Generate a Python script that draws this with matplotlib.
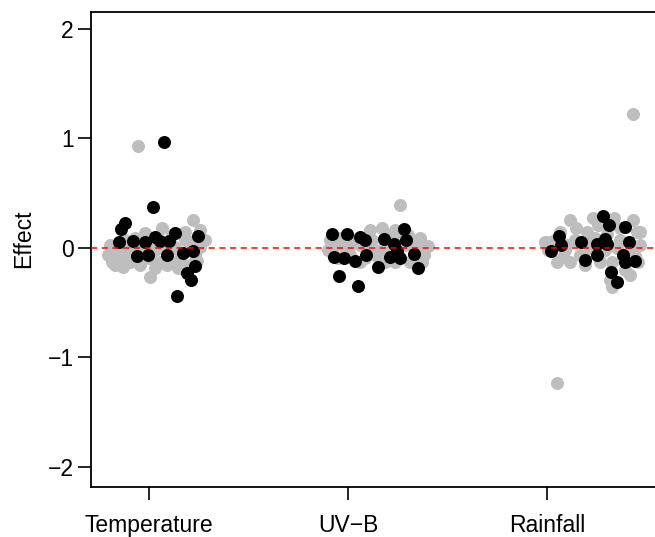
import matplotlib
matplotlib.use("Agg")
import matplotlib.pyplot as plt

plt.rcParams["font.family"] = ["Liberation Sans", "DejaVu Sans"]

categories = ["Temperature", "UV\u2212B", "Rainfall"]

# jitter offsets (category units) and effect values
temp_grey_dx = [-0.055, 0.22, 0.255, 0.065, -0.185, 0.005, -0.17, -0.195, -0.145, -0.095,
                -0.045, -0.02, 0.03, 0.055, 0.105, 0.13, 0.18, 0.255, 0.28, 0.205,
                0.155, -0.12, -0.07, 0.005, 0.08, -0.155, -0.045, 0.23, 0.115, 0.18,
                -0.205, -0.105, 0.03, 0.145, -0.17, -0.12, -0.08, 0.0, 0.09, 0.21,
                0.24, -0.03, 0.12, -0.13]
temp_grey_y = [0.93, 0.255, 0.165, 0.18, -0.13, -0.265, -0.155, 0.03, -0.02, -0.13,
               -0.02, 0.135, -0.02, -0.13, -0.125, 0.0, 0.07, 0.01, 0.075, -0.155,
               -0.09, 0.075, 0.09, 0.07, 0.03, -0.09, -0.155, -0.065, 0.12, 0.145,
               -0.065, 0.0, -0.18, -0.18, -0.05, -0.04, -0.1, -0.09, -0.16, 0.05,
               -0.12, 0.1, 0.02, -0.17]
temp_black_dx = [0.077, 0.02, -0.12, -0.14, -0.15, -0.08, -0.02, 0.03, 0.055, 0.10, 0.13,
                 0.245, -0.06, -0.007, 0.09, 0.17, 0.22, 0.23, 0.19, 0.21, 0.14]
temp_black_y = [0.97, 0.37, 0.23, 0.17, 0.055, 0.06, 0.055, 0.10, 0.06, 0.06, 0.14,
                0.11, -0.07, -0.065, -0.065, -0.05, -0.03, -0.165, -0.23, -0.29, -0.435]

uvb_grey_dx = [0.26, 0.17, 0.235, 0.335, 0.38, -0.065, -0.1, -0.015, 0.06, 0.12,
               0.16, 0.21, 0.285, 0.35, 0.31, 0.235, 0.135, 0.01, 0.085, -0.09,
               -0.04, 0.035, 0.195, 0.26, 0.36, 0.11, 0.185, -0.05, 0.37, 0.06,
               0.3, 0.02, 0.1, 0.22, 0.4, -0.08]
uvb_grey_y = [0.39, 0.18, 0.165, 0.055, -0.065, 0.03, -0.02, 0.0, 0.03, 0.075,
              -0.02, 0.12, 0.03, -0.02, -0.13, -0.13, -0.065, -0.065, -0.09, 0.075,
              0.09, 0.075, 0.035, 0.09, 0.09, 0.165, -0.13, -0.09, -0.13, -0.13,
              0.12, 0.04, -0.04, -0.05, 0.02, -0.05]
uvb_black_dx = [-0.08, -0.007, 0.06, 0.085, 0.28, 0.18, 0.23, 0.29, -0.07, -0.02,
                0.035, 0.09, 0.21, 0.26, 0.33, 0.15, 0.35, -0.045, 0.05, 0.245]
uvb_black_y = [0.125, 0.13, 0.10, 0.07, 0.17, 0.08, 0.04, 0.07, -0.08, -0.09,
               -0.115, -0.065, -0.085, -0.095, -0.055, -0.17, -0.185, -0.26, -0.35, -0.03]

rain_grey_dx = [0.43, 0.05, 0.115, 0.23, 0.335, 0.43, 0.45, 0.325, 0.415, 0.015,
                0.05, 0.2, 0.255, 0.065, 0.14, 0.09, 0.165, 0.215, 0.29, 0.365,
                0.415, 0.465, 0.455, 0.39, 0.265, 0.115, 0.005, 0.19, 0.325, 0.365,
                0.145, 0.04, 0.24, 0.465, 0.315, -0.01, 0.08, 0.2, 0.3, 0.44,
                0.1, 0.35]
rain_grey_y = [1.22, -1.235, 0.255, 0.275, 0.27, 0.255, 0.145, -0.355, -0.245, 0.055,
               -0.13, 0.145, 0.21, 0.145, 0.075, -0.02, -0.065, 0.0, -0.02, 0.075,
               -0.02, 0.03, -0.13, -0.2, -0.13, -0.13, -0.02, -0.155, -0.13, 0.18,
               0.18, 0.075, 0.09, 0.145, -0.29, 0.055, -0.08, 0.06, 0.13, -0.07,
               0.03, 0.0]
rain_black_dx = [0.28, 0.31, 0.39, 0.06, 0.07, 0.02, 0.17, 0.25, 0.29, 0.30,
                 0.41, 0.19, 0.25, 0.38, 0.44, 0.39, 0.32, 0.35]
rain_black_y = [0.29, 0.21, 0.19, 0.11, 0.03, -0.03, 0.05, 0.04, 0.08, 0.04,
                0.05, -0.11, -0.065, -0.065, -0.12, -0.125, -0.22, -0.31]

groups = [
    (temp_grey_dx, temp_grey_y, temp_black_dx, temp_black_y),
    (uvb_grey_dx, uvb_grey_y, uvb_black_dx, uvb_black_y),
    (rain_grey_dx, rain_grey_y, rain_black_dx, rain_black_y),
]

fig = plt.figure(figsize=(6.55, 5.37), dpi=100)
ax = fig.add_axes([91 / 655, 50 / 537, 609 / 655, 475 / 537])

for i, (gdx, gy, bdx, by) in enumerate(groups, start=1):
    ax.scatter([i + d for d in gdx], gy, s=88, color="#bebebe", linewidths=0, zorder=2)
for i, (gdx, gy, bdx, by) in enumerate(groups, start=1):
    ax.scatter([i + d for d in bdx], by, s=88, color="black", linewidths=0, zorder=3)

ax.axhline(0, color="red", linewidth=1.1, dashes=(4, 3), zorder=4)

ax.set_xlim(0.7085, 3.769)
ax.set_ylim(-2.183, 2.155)
ax.set_xticks([1, 2, 3])
ax.set_xticklabels(categories)
ax.set_yticks([-2, -1, 0, 1, 2])
ax.set_yticklabels(["\u22122", "\u22121", "0", "1", "2"])
ax.tick_params(axis="both", labelsize=16.5, length=9.5, width=1.2, direction="out")
ax.tick_params(axis="x", pad=10)
ax.tick_params(axis="y", pad=3)
for sp in ax.spines.values():
    sp.set_linewidth(1.3)

ax.set_ylabel("Effect", fontsize=16.5)
ax.yaxis.set_label_coords(-0.092, 0.522)

fig.savefig("out.png", dpi=100)
